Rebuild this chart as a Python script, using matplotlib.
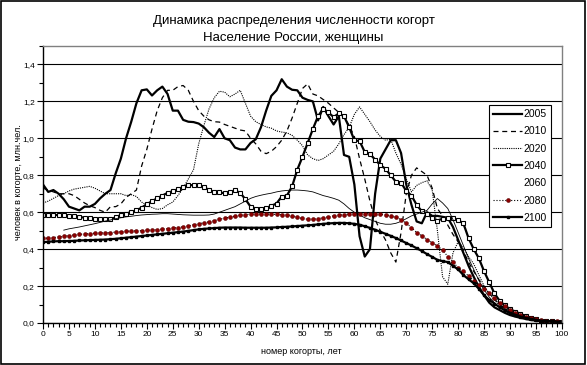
import matplotlib
matplotlib.use("Agg")
import matplotlib.pyplot as plt
import numpy as np
from matplotlib.patches import Rectangle
from matplotlib.ticker import MultipleLocator, FuncFormatter

plt.rcParams['font.family'] = ['Liberation Sans', 'DejaVu Sans']

# cohort number (age), years
ages = np.arange(0, 101)

# women in a cohort, mln
pop_2005 = [0.75, 0.71, 0.72, 0.70, 0.67, 0.63, 0.62, 0.61, 0.63, 0.63,
            0.645, 0.675, 0.70, 0.72, 0.81, 0.89, 1.00, 1.09, 1.19, 1.26,
            1.265, 1.232, 1.26, 1.28, 1.24, 1.15, 1.15, 1.10, 1.09, 1.088,
            1.08, 1.06, 1.03, 1.007, 1.05, 1.00, 0.99, 0.95, 0.94, 0.94,
            0.975, 0.995, 1.06, 1.15, 1.23, 1.26, 1.32, 1.28, 1.263, 1.26,
            1.22, 1.208, 1.20, 1.097, 1.17, 1.12, 1.075, 1.12, 0.91, 0.90,
            0.75, 0.47, 0.36, 0.40, 0.70, 0.89, 0.94, 0.99, 0.99, 0.92,
            0.75, 0.64, 0.55, 0.54, 0.60, 0.58, 0.58, 0.575, 0.57, 0.52,
            0.45, 0.38, 0.31, 0.25, 0.195, 0.15, 0.11, 0.085, 0.07, 0.055,
            0.043, 0.035, 0.028, 0.022, 0.017, 0.013, 0.011, 0.009, 0.008, 0.007,
            0.006]
pop_2010 = [0.73, 0.72, 0.71, 0.70, 0.70, 0.70, 0.69, 0.67, 0.65, 0.635,
            0.625, 0.61, 0.60, 0.63, 0.63, 0.645, 0.68, 0.70, 0.72, 0.85,
            0.94, 1.05, 1.15, 1.22, 1.26, 1.26, 1.28, 1.286, 1.26, 1.20,
            1.15, 1.12, 1.10, 1.09, 1.088, 1.075, 1.065, 1.055, 1.045, 1.04,
            1.00, 0.97, 0.93, 0.917, 0.93, 0.955, 0.99, 1.04, 1.11, 1.19,
            1.27, 1.295, 1.24, 1.23, 1.21, 1.19, 1.165, 1.14, 1.115, 1.07,
            1.01, 0.89, 0.78, 0.66, 0.56, 0.50, 0.45, 0.38, 0.33, 0.49,
            0.70, 0.80, 0.84, 0.82, 0.80, 0.73, 0.62, 0.58, 0.53, 0.48,
            0.44, 0.39, 0.33, 0.28, 0.235, 0.195, 0.16, 0.13, 0.10, 0.08,
            0.065, 0.052, 0.042, 0.032, 0.025, 0.019, 0.015, 0.012, 0.009, 0.008,
            0.007]
pop_2020 = [0.65, 0.66, 0.675, 0.69, 0.70, 0.715, 0.725, 0.73, 0.735, 0.74,
            0.73, 0.715, 0.70, 0.70, 0.70, 0.70, 0.69, 0.695, 0.685, 0.655,
            0.638, 0.625, 0.615, 0.62, 0.64, 0.655, 0.69, 0.73, 0.78, 0.83,
            0.97, 1.07, 1.16, 1.22, 1.255, 1.25, 1.225, 1.24, 1.26, 1.19,
            1.12, 1.09, 1.075, 1.062, 1.055, 1.04, 1.034, 1.03, 1.016, 0.99,
            0.96, 0.91, 0.89, 0.88, 0.89, 0.91, 0.93, 0.97, 1.02, 1.06,
            1.13, 1.17, 1.13, 1.09, 1.045, 1.01, 0.99, 0.995, 0.92, 0.86,
            0.78, 0.71, 0.745, 0.76, 0.77, 0.72, 0.50, 0.25, 0.21, 0.38,
            0.44, 0.41, 0.36, 0.32, 0.26, 0.20, 0.16, 0.125, 0.095, 0.075,
            0.062, 0.05, 0.04, 0.03, 0.024, 0.018, 0.014, 0.011, 0.009, 0.008,
            0.007]
pop_2040 = [0.585, 0.585, 0.585, 0.585, 0.583, 0.58, 0.578, 0.575, 0.57, 0.566,
            0.564, 0.562, 0.562, 0.563, 0.572, 0.585, 0.593, 0.60, 0.61, 0.625,
            0.643, 0.66, 0.675, 0.69, 0.705, 0.714, 0.724, 0.737, 0.746, 0.747,
            0.745, 0.737, 0.72, 0.71, 0.707, 0.703, 0.71, 0.718, 0.705, 0.67,
            0.63, 0.62, 0.62, 0.622, 0.635, 0.647, 0.685, 0.69, 0.74, 0.83,
            0.90, 0.975, 1.05, 1.12, 1.16, 1.14, 1.115, 1.135, 1.12, 1.06,
            0.99, 0.985, 0.926, 0.915, 0.885, 0.855, 0.835, 0.80, 0.765, 0.76,
            0.715, 0.69, 0.64, 0.605, 0.59, 0.57, 0.555, 0.565, 0.566, 0.566,
            0.557, 0.54, 0.46, 0.40, 0.35, 0.28, 0.22, 0.16, 0.12, 0.095,
            0.075, 0.062, 0.05, 0.038, 0.028, 0.02, 0.013, 0.011, 0.009, 0.008,
            0.007]
pop_2060 = [np.nan, np.nan, np.nan, np.nan, 0.503, 0.51, 0.515, 0.52, 0.526, 0.532,
            0.538, 0.545, 0.552, 0.558, 0.565, 0.57, 0.575, 0.578, 0.582, 0.585,
            0.587, 0.589, 0.59, 0.592, 0.592, 0.59, 0.588, 0.586, 0.585, 0.584,
            0.584, 0.584, 0.585, 0.59, 0.60, 0.61, 0.62, 0.63, 0.645, 0.66,
            0.675, 0.685, 0.692, 0.698, 0.703, 0.71, 0.715, 0.718, 0.72, 0.72,
            0.718, 0.715, 0.71, 0.70, 0.69, 0.683, 0.675, 0.665, 0.645, 0.62,
            0.60, 0.585, 0.57, 0.56, 0.55, 0.54, 0.535, 0.535, 0.54, 0.55,
            0.565, 0.58, 0.59, 0.60, 0.61, 0.645, 0.674, 0.65, 0.62, 0.56,
            0.49, 0.42, 0.35, 0.29, 0.23, 0.18, 0.14, 0.11, 0.085, 0.065,
            0.05, 0.04, 0.032, 0.025, 0.019, 0.015, 0.012, 0.01, 0.008, 0.007,
            0.006]
pop_2080 = [0.458, 0.46, 0.463, 0.466, 0.47, 0.473, 0.477, 0.48, 0.482, 0.484,
            0.486, 0.488, 0.489, 0.49, 0.492, 0.494, 0.496, 0.498, 0.499, 0.50,
            0.502, 0.503, 0.505, 0.508, 0.511, 0.514, 0.517, 0.521, 0.526, 0.532,
            0.537, 0.543, 0.548, 0.555, 0.562, 0.568, 0.573, 0.578, 0.583, 0.587,
            0.589, 0.59, 0.59, 0.59, 0.589, 0.588, 0.587, 0.585, 0.58, 0.572,
            0.566, 0.562, 0.562, 0.565, 0.57, 0.575, 0.58, 0.584, 0.587, 0.589,
            0.591, 0.593, 0.593, 0.593, 0.591, 0.589, 0.586, 0.58, 0.572, 0.56,
            0.54, 0.517, 0.49, 0.472, 0.452, 0.434, 0.418, 0.395, 0.36, 0.33,
            0.30, 0.28, 0.255, 0.23, 0.205, 0.185, 0.16, 0.135, 0.11, 0.09,
            0.07, 0.055, 0.043, 0.033, 0.026, 0.02, 0.016, 0.013, 0.011, 0.009,
            0.008]
pop_2100 = [0.438, 0.44, 0.442, 0.443, 0.443, 0.444, 0.445, 0.447, 0.448, 0.449,
            0.45, 0.451, 0.452, 0.454, 0.456, 0.459, 0.462, 0.465, 0.468, 0.471,
            0.474, 0.477, 0.48, 0.483, 0.486, 0.489, 0.492, 0.495, 0.499, 0.503,
            0.507, 0.51, 0.512, 0.514, 0.516, 0.517, 0.517, 0.517, 0.517, 0.516,
            0.516, 0.516, 0.516, 0.516, 0.517, 0.518, 0.52, 0.521, 0.523, 0.525,
            0.527, 0.529, 0.531, 0.534, 0.537, 0.539, 0.541, 0.542, 0.542, 0.54,
            0.537, 0.532, 0.524, 0.515, 0.505, 0.494, 0.483, 0.472, 0.46, 0.447,
            0.433, 0.42, 0.405, 0.39, 0.373, 0.358, 0.342, 0.335, 0.33, 0.31,
            0.29, 0.26, 0.237, 0.215, 0.185, 0.15, 0.125, 0.105, 0.085, 0.07,
            0.055, 0.045, 0.035, 0.028, 0.022, 0.017, 0.013, 0.011, 0.009, 0.008,
            0.007]

fig = plt.figure(figsize=(5.87, 3.65), dpi=100)
fig.patches.append(Rectangle((0.002, 0.003), 0.994, 0.994, transform=fig.transFigure,
                             fill=False, edgecolor='black', linewidth=1.2))
ax = fig.add_axes([0.0733, 0.115, 0.884, 0.759])

ax.plot(ages, pop_2005, color='black', lw=1.6, label='2005')
ax.plot(ages, pop_2010, color='black', lw=0.9, ls=(0, (4, 3)), label='2010')
ax.plot(ages, pop_2020, color='black', lw=0.8, ls=(0, (1, 1)), label='2020')
ax.plot(ages, pop_2040, color='black', lw=1.6, marker='s', ms=3.4,
        mfc='white', mec='black', mew=0.8, label='2040')
ax.plot(ages, pop_2060, color='black', lw=0.6, label='2060')
ax.plot(ages, pop_2080, color='black', lw=0.8, ls=':', marker='o', ms=2.8,
        mfc='#8b0000', mec='#5a0000', mew=0.4, label='2080')
ax.plot(ages, pop_2100, color='black', lw=1.6, marker='s', ms=2,
        mfc='black', mec='black', label='2100')

ax.set_xlim(0, 100)
ax.set_ylim(0, 1.5)
ax.xaxis.set_major_locator(MultipleLocator(5))
ax.xaxis.set_minor_locator(MultipleLocator(1))
ax.set_yticks(np.arange(0, 1.41, 0.2))
ax.yaxis.set_minor_locator(MultipleLocator(0.1))
ax.yaxis.set_major_formatter(FuncFormatter(lambda v, p: f"{v:.1f}".replace('.', ',')))
ax.tick_params(which='both', direction='out', labelsize=6, colors='black', pad=2)
ax.tick_params(which='major', length=4, width=0.8)
ax.tick_params(which='minor', length=3, width=0.8)
ax.yaxis.grid(True, color='black', lw=0.8)
ax.set_axisbelow(True)

for side in ('left', 'bottom'):
    ax.spines[side].set_color('black')
    ax.spines[side].set_linewidth(1)
for side in ('top', 'right'):
    ax.spines[side].set_color('#808080')
    ax.spines[side].set_linewidth(1)

leg = ax.legend(loc='upper left', bbox_to_anchor=(0.859, 0.787), fontsize=7.5,
                frameon=True, fancybox=False, edgecolor='black', framealpha=1,
                handlelength=2.8, handletextpad=0.1, labelspacing=0.7,
                borderpad=0.4, borderaxespad=0)
leg.get_frame().set_linewidth(0.8)
leg.legend_handles[4].set_visible(False)

fig.text(0.5, 0.934, 'Динамика распределения численности когорт', ha='center',
         va='baseline', fontsize=9.5)
fig.text(0.5, 0.888, 'Население России, женщины', ha='center', va='baseline', fontsize=9.5)
fig.text(0.031, 0.5, 'человек в когорте, млн.чел.', rotation=90, ha='center',
         va='center', fontsize=6.5)
fig.text(0.514, 0.038, 'номер когорты, лет', ha='center', va='center', fontsize=6.5)

fig.savefig('out.png', dpi=100)
